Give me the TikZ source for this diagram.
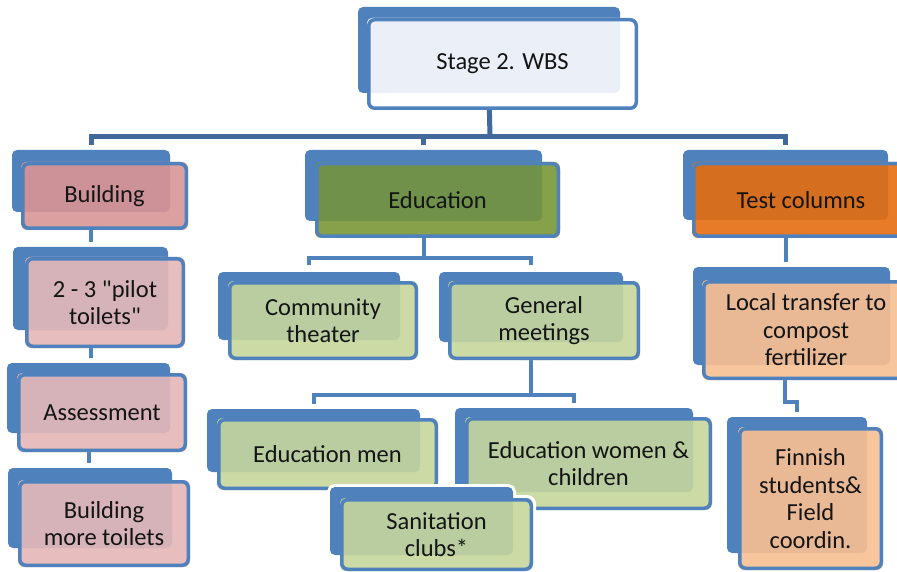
\documentclass[tikz,border=0pt]{standalone}
\usepackage{fontspec}
\setmainfont{Carlito}[Ligatures=TeXOff]
\usetikzlibrary{calc}
\pgfdeclarelayer{bg}
\pgfsetlayers{bg,main}
\definecolor{wblue}{HTML}{4F81BD}
\definecolor{wdark}{HTML}{41699B}
\definecolor{ovwbs}{HTML}{EBF0F8}
\definecolor{otwbs}{HTML}{FFFFFF}
\definecolor{ovbld}{HTML}{CC9298}
\definecolor{otbld}{HTML}{DDA0A0}
\definecolor{ovpnk}{HTML}{D5B3B8}
\definecolor{otpnk}{HTML}{E7BDBD}
\definecolor{ovedu}{HTML}{6F914A}
\definecolor{otedu}{HTML}{87A14B}
\definecolor{ovgrn}{HTML}{B9CDA0}
\definecolor{otgrn}{HTML}{CCDAA5}
\definecolor{ovtst}{HTML}{D66E1F}
\definecolor{ottst}{HTML}{E87B27}
\definecolor{ovorg}{HTML}{E9B996}
\definecolor{otorg}{HTML}{F7C69C}
\newcommand\wfont{\fontsize{24.5}{27.5}\selectfont}
% #1 name, #2 back NW, #3 back SE, #4 front NW, #5 front SE, #6 overlap colour, #7 outer colour, #8 text
\newcommand\wbsbox[8]{%
  \path let \p1=#2, \p2=#3 in node[backbox, minimum width={\x2-\x1}, minimum height={\y1-\y2}] (#1b) at ($#2!0.5!#3$) {};
  \fill[#7, rounded corners=6pt] #4 rectangle #5;
  \fill[#6, rounded corners=5pt] #4 rectangle #3;
  \path let \p1=#4, \p2=#5 in node[frontbox, minimum width={\x2-\x1-3.5pt}, minimum height={\y1-\y2-3.5pt}] (#1) at ($#4!0.5!#5$) {#8};
}
\begin{document}
\begin{tikzpicture}[x=1pt,y=-1pt,
  backbox/.style={fill=wblue, rounded corners=5pt, inner sep=0pt, outer sep=0pt},
  frontbox/.style={draw=wblue, line width=3.5pt, rounded corners=6pt, inner sep=0pt, outer sep=0pt, align=center, font=\wfont, text=black!92},
  tree/.style={draw=wdark, line width=5pt},
  conn/.style={draw=wblue, line width=4pt}]
\useasboundingbox (0,0) rectangle (897,572);
\clip (0,0) rectangle (897,572);

\wbsbox{wbs}{(358,7)}{(620,93)}{(367,18)}{(638,110)}{ovwbs}{otwbs}{Stage 2. WBS}

\wbsbox{bld}{(12,150)}{(170,212)}{(21,162)}{(188,230)}{ovbld}{otbld}{Building}
\wbsbox{edu}{(305,150)}{(542,221)}{(315,162)}{(560,238)}{ovedu}{otedu}{Education}
\wbsbox{tst}{(683,150)}{(888,220)}{(692,162)}{(910,238)}{ovtst}{ottst}{Test columns}

\wbsbox{pil}{(13,247)}{(168,330)}{(25,257)}{(185,348)}{ovpnk}{otpnk}{2 - 3 "pilot\\toilets"}
\wbsbox{ass}{(7,363)}{(170,433)}{(17,373)}{(187,452)}{ovpnk}{otpnk}{Assessment}
\wbsbox{mor}{(8,468)}{(172,548)}{(18,480)}{(190,567)}{ovpnk}{otpnk}{Building\\more toilets}

\wbsbox{com}{(218,272)}{(400,340)}{(228,281)}{(418,360)}{ovgrn}{otgrn}{Community\\theater}
\wbsbox{gen}{(439,272)}{(623,342)}{(448,281)}{(640,360)}{ovgrn}{otgrn}{General\\meetings}

\wbsbox{loc}{(693,267)}{(890,365)}{(702,280)}{(910,380)}{ovorg}{otorg}{Local transfer to\\compost\\fertilizer}
\wbsbox{fin}{(727,417)}{(867,553)}{(738,427)}{(883,570)}{ovorg}{otorg}{Finnish\\students\&\\Field\\coordin.}

\wbsbox{men}{(207,409)}{(420,472)}{(217,418)}{(438,490)}{ovgrn}{otgrn}{Education men}
\wbsbox{wom}{(455,408)}{(693,492)}{(465,417)}{(712,510)}{ovgrn}{otgrn}{Education women \&\\children}

% white halo round the sanitation box
\filldraw[white, line width=6pt, rounded corners=5pt] (330,487) rectangle (513,555);
\filldraw[white, line width=6pt, rounded corners=6pt] (340,498) rectangle (533,571);
\wbsbox{san}{(330,487)}{(513,555)}{(340,498)}{(533,571)}{ovgrn}{otgrn}{Sanitation\\clubs*}

\begin{pgfonlayer}{bg}
  \coordinate (j0) at (490,137);
  \draw[tree] (wbsb.south) -- (j0);
  \draw[tree] ($(bldb.north)+(0,-5)$) -- (bldb.north |- j0) -- (tstb.north |- j0) -- ($(tstb.north)+(0,-5)$);
  \draw[tree] (edub.north |- j0) -- ($(edub.north)+(0,-5)$);

  \coordinate (j1) at (425,258);
  \draw[conn] (edub.south) -- (edub.south |- j1);
  \draw[conn] ($(comb.north)+(0,-7)$) -- (comb.north |- j1) -- (genb.north |- j1) -- ($(genb.north)+(0,-7)$);

  \coordinate (j2) at (530,395);
  \draw[conn] (genb.south) -- (genb.south |- j2);
  \draw[conn] ($(menb.north)+(0,-5)$) -- (menb.north |- j2) -- (womb.north |- j2) -- ($(womb.north)+(0,-5)$);

  \draw[conn] (bldb.south) -- ($(bldb.south |- pilb.north)+(0,-5)$);
  \draw[conn] (pilb.south) -- ($(pilb.south |- assb.north)+(0,-5)$);
  \draw[conn] (assb.south) -- ($(assb.south |- morb.north)+(0,-5)$);

  \draw[conn] (tstb.south) -- ($(tstb.south |- locb.north)+(0,-5)$);
  \coordinate (k1) at (785,402);
  \coordinate (k2) at (797,402);
  \draw[conn] (k1 |- locb.south) -- (k1) -- (k2) -- ($(k2 |- finb.north)+(0,-5)$);
\end{pgfonlayer}
\end{tikzpicture}
\end{document}
